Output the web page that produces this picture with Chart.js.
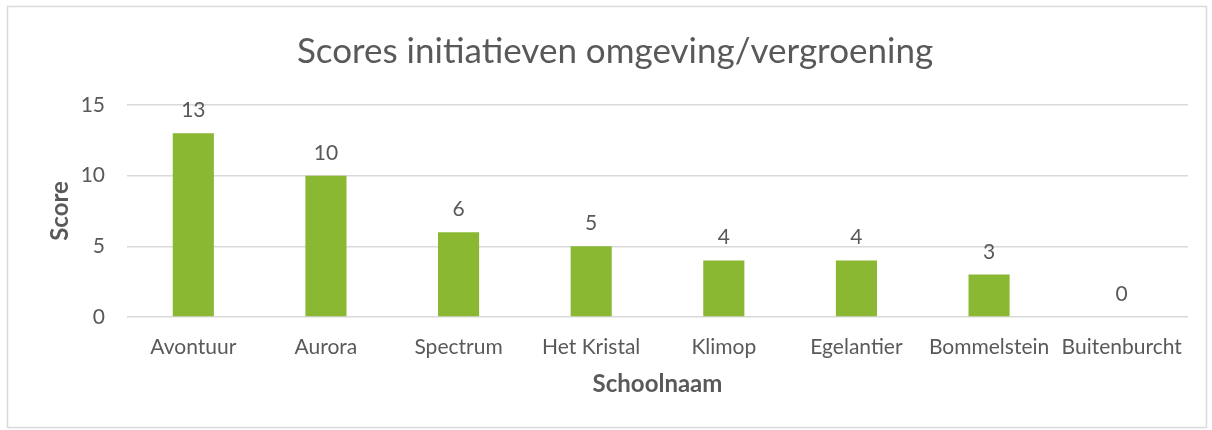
<!DOCTYPE html>
<html>
<head>
<meta charset="utf-8">
<script src="https://cdn.jsdelivr.net/npm/chart.js@4"></script>
<style>
html,body{margin:0;padding:0;background:#fff;}
#wrap{width:1212px;height:430px;position:relative;}
</style>
</head>
<body>
<div id="wrap"><canvas id="c" width="1212" height="430"></canvas></div>
<script>
const categories = ["Avontuur","Aurora","Spectrum","Het Kristal","Klimop","Egelantier","Bommelstein","Buitenburcht"];
const scores = [13,10,6,5,4,4,3,0];
const yTicks = [0,5,10,15];
const chartTitle = "Scores initiatieven omgeving/vergroening";
const xTitle = "Schoolnaam";
const yTitle = "Score";

const textColor = "#595959";
const fontFamily = "Lato, 'Open Sans', sans-serif";

const frame = {
  id: 'frame',
  beforeDraw(chart){
    const ctx = chart.ctx;
    ctx.save();
    ctx.fillStyle = '#fff';
    ctx.fillRect(0,0,chart.width,chart.height);
    ctx.strokeStyle = '#d9d9d9';
    ctx.lineWidth = 1.5;
    ctx.strokeRect(7.5,6.5,1199,421);
    ctx.restore();
  }
};

const labels = {
  id: 'valueLabels',
  afterDatasetsDraw(chart){
    const ctx = chart.ctx;
    const meta = chart.getDatasetMeta(0);
    ctx.save();
    ctx.font = "21px " + fontFamily;
    ctx.fillStyle = textColor;
    ctx.textAlign = 'center';
    ctx.textBaseline = 'alphabetic';
    meta.data.forEach((bar, i) => {
      ctx.fillText(String(scores[i]), bar.x, bar.y - 16);
    });
    ctx.restore();
  }
};

new Chart(document.getElementById('c'), {
  type: 'bar',
  data: {
    labels: categories,
    datasets: [{
      data: scores,
      backgroundColor: '#8AB833',
      borderWidth: 0,
      barPercentage: 0.62,
      categoryPercentage: 0.5
    }]
  },
  options: {
    responsive: false,
    animation: false,
    devicePixelRatio: 1,
    layout: { padding: { left: 42, right: 24, top: 12, bottom: 31 } },
    plugins: {
      legend: { display: false },
      tooltip: { enabled: false },
      title: {
        display: true,
        text: chartTitle,
        color: textColor,
        font: { family: fontFamily, size: 35, weight: 'normal' },
        padding: { top: 19, bottom: 32 }
      }
    },
    scales: {
      x: {
        afterFit(axis){ axis.height = 82; },
        grid: { display: false, drawTicks: false },
        border: { display: false },
        ticks: { color: textColor, font: { family: fontFamily, size: 21 }, padding: 18, maxRotation: 0, autoSkip: false },
        title: { display: true, text: xTitle, color: textColor, font: { family: fontFamily, size: 24, weight: 'bold' }, padding: { top: 0, bottom: 0 } }
      },
      y: {
        min: 0, max: 15,
        afterFit(axis){ axis.width = 85; },
        afterBuildTicks(axis){ axis.ticks = yTicks.map(v => ({value: v})); },
        grid: { color: '#d9d9d9', lineWidth: 1.5, drawTicks: false },
        border: { display: false },
        ticks: { color: textColor, font: { family: fontFamily, size: 21 }, padding: 22 },
        title: { display: true, text: yTitle, color: textColor, font: { family: fontFamily, size: 24, weight: 'bold' }, padding: { bottom: 8 } }
      }
    }
  },
  plugins: [frame, labels]
});
</script>
</body>
</html>
